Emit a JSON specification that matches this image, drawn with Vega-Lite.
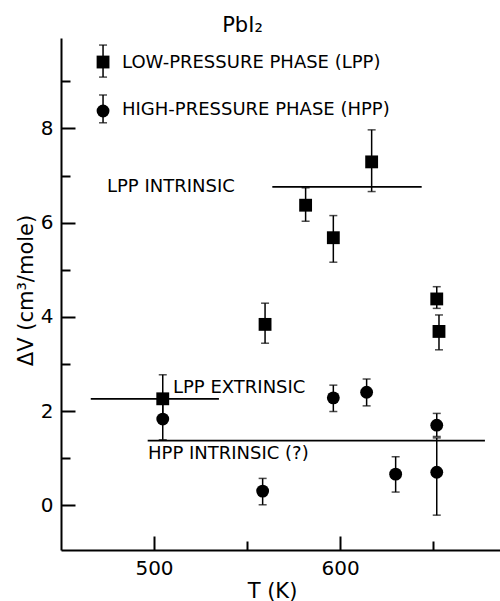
{
  "$schema": "https://vega.github.io/schema/vega-lite/v6.json",
  "width": 439,
  "height": 512,
  "autosize": {"type": "none"},
  "padding": {"left": 61, "top": 38, "right": 0, "bottom": 51},
  "background": "white",
  "title": {"text": "PbI₂", "font": "DejaVu Sans", "fontSize": 21, "fontWeight": "normal", "color": "black", "anchor": "middle", "frame": "group", "dx": -38, "dy": 21, "offset": 6, "baseline": "alphabetic"},
  "config": {
    "view": {"stroke": null},
    "axis": {"grid": false, "domainColor": "black", "domainWidth": 2, "tickColor": "black", "tickWidth": 2, "labelFont": "DejaVu Sans", "labelFontSize": 20, "labelColor": "black", "titleFont": "DejaVu Sans", "titleFontWeight": "normal", "titleColor": "black"}
  },
  "datasets": {
    "pts": [
      {"T": 504.7, "V": 2.26, "lo": 1.77, "hi": 2.77, "phase": "LPP"},
      {"T": 559.7, "V": 3.84, "lo": 3.44, "hi": 4.29, "phase": "LPP"},
      {"T": 581.5, "V": 6.37, "lo": 6.03, "hi": 6.74, "phase": "LPP"},
      {"T": 596.4, "V": 5.68, "lo": 5.16, "hi": 6.15, "phase": "LPP"},
      {"T": 617.0, "V": 7.29, "lo": 6.66, "hi": 7.97, "phase": "LPP"},
      {"T": 652.0, "V": 4.38, "lo": 4.18, "hi": 4.64, "phase": "LPP"},
      {"T": 653.2, "V": 3.69, "lo": 3.30, "hi": 4.04, "phase": "LPP"},
      {"T": 504.7, "V": 1.83, "lo": 1.39, "hi": 2.2, "phase": "HPP"},
      {"T": 558.4, "V": 0.30, "lo": 0.01, "hi": 0.57, "phase": "HPP"},
      {"T": 596.4, "V": 2.28, "lo": 1.99, "hi": 2.55, "phase": "HPP"},
      {"T": 614.3, "V": 2.40, "lo": 2.11, "hi": 2.68, "phase": "HPP"},
      {"T": 629.9, "V": 0.66, "lo": 0.28, "hi": 1.03, "phase": "HPP"},
      {"T": 652.0, "V": 1.70, "lo": 1.46, "hi": 1.95, "phase": "HPP"},
      {"T": 652.0, "V": 0.70, "lo": -0.21, "hi": 1.43, "phase": "HPP"},
      {"T": 472.6, "V": 9.41, "lo": 9.09, "hi": 9.77, "phase": "LPP"},
      {"T": 472.6, "V": 8.37, "lo": 8.12, "hi": 8.71, "phase": "HPP"}
    ],
    "lines": [
      {"T1": 563.6, "T2": 643.9, "V": 6.76},
      {"T1": 466.0, "T2": 534.9, "V": 2.26},
      {"T1": 496.6, "T2": 677.9, "V": 1.37}
    ],
    "labels": [
      {"T": 482.8, "V": 9.39, "label": "LOW-PRESSURE PHASE (LPP)"},
      {"T": 482.8, "V": 8.39, "label": "HIGH-PRESSURE PHASE (HPP)"},
      {"T": 474.7, "V": 6.76, "label": "LPP INTRINSIC"},
      {"T": 510.2, "V": 2.49, "label": "LPP EXTRINSIC"},
      {"T": 496.8, "V": 1.09, "label": "HPP INTRINSIC (?)"}
    ]
  },
  "layer": [
    {
      "data": {"name": "lines"},
      "mark": {"type": "rule", "color": "black", "strokeWidth": 1.8},
      "encoding": {
        "x": {"field": "T1", "type": "quantitative", "scale": {"domain": [450, 686], "nice": false, "zero": false},
          "axis": {"values": [500, 550, 600, 650], "labelExpr": "datum.value % 100 == 0 ? datum.label : ''", "tickSize": {"condition": {"test": "datum.value % 100 == 0", "value": -14}, "value": -9}, "labelPadding": 22, "title": "T (K)", "titleFontSize": 21, "titleX": 211, "titleY": 47, "titleBaseline": "alphabetic", "titleAnchor": "middle"}},
        "x2": {"field": "T2"},
        "y": {"field": "V", "type": "quantitative", "scale": {"domain": [-0.95, 9.92], "nice": false, "zero": false},
          "axis": {"values": [0, 1, 2, 3, 4, 5, 6, 7, 8, 9], "labelExpr": "datum.value % 2 == 0 ? datum.label : ''", "tickSize": {"condition": {"test": "datum.value % 2 == 0", "value": -14}, "value": -9}, "labelPadding": 22, "title": "ΔV (cm³/mole)", "titleFontSize": 21, "titleAngle": 270, "titleX": -35, "titleY": 252, "titleAlign": "center", "titleBaseline": "middle", "titleAnchor": "middle"}}
      }
    },
    {
      "data": {"name": "pts"},
      "mark": {"type": "rule", "color": "black", "strokeWidth": 1.5},
      "encoding": {
        "x": {"field": "T", "type": "quantitative"},
        "y": {"field": "lo", "type": "quantitative"},
        "y2": {"field": "hi"}
      }
    },
    {
      "data": {"name": "pts"},
      "mark": {"type": "tick", "color": "black", "orient": "horizontal", "size": 8, "thickness": 1.5},
      "encoding": {
        "x": {"field": "T", "type": "quantitative"},
        "y": {"field": "lo", "type": "quantitative"}
      }
    },
    {
      "data": {"name": "pts"},
      "mark": {"type": "tick", "color": "black", "orient": "horizontal", "size": 8, "thickness": 1.5},
      "encoding": {
        "x": {"field": "T", "type": "quantitative"},
        "y": {"field": "hi", "type": "quantitative"}
      }
    },
    {
      "data": {"name": "pts"},
      "mark": {"type": "point", "filled": true, "color": "black", "opacity": 1, "size": 165},
      "encoding": {
        "x": {"field": "T", "type": "quantitative"},
        "y": {"field": "V", "type": "quantitative"},
        "shape": {"field": "phase", "type": "nominal", "scale": {"domain": ["LPP", "HPP"], "range": ["square", "circle"]}, "legend": null}
      }
    },
    {
      "data": {"name": "labels"},
      "mark": {"type": "text", "font": "DejaVu Sans", "fontSize": 18, "align": "left", "baseline": "middle", "color": "black"},
      "encoding": {
        "x": {"field": "T", "type": "quantitative"},
        "y": {"field": "V", "type": "quantitative"},
        "text": {"field": "label"}
      }
    }
  ]
}
